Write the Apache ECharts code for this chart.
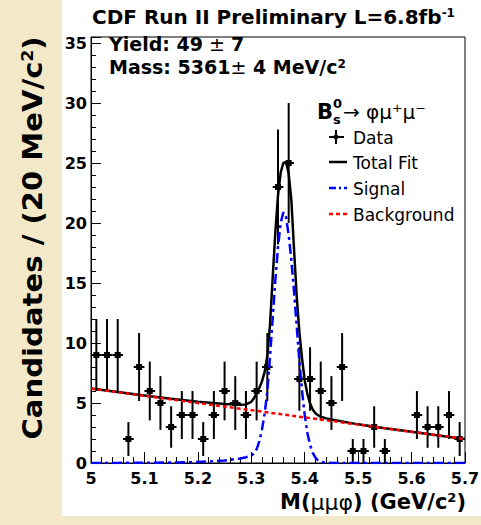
<!DOCTYPE html>
<html>
<head>
<meta charset="utf-8">
<script src="https://cdn.jsdelivr.net/npm/echarts@6.0.0/dist/echarts.min.js"></script>
<style>
html, body { margin: 0; padding: 0; background: #f3e9c9; }
#main { width: 481px; height: 525px; }
</style>
</head>
<body>
<div id="main"></div>
<script>
// bin centres (20 MeV bins), counts and errors
var binX = [5.01, 5.03, 5.05, 5.07, 5.09, 5.11, 5.13, 5.15, 5.17, 5.19,
            5.21, 5.23, 5.25, 5.27, 5.29, 5.31, 5.33, 5.35, 5.37, 5.39,
            5.41, 5.43, 5.45, 5.47, 5.49, 5.51, 5.53, 5.55, 5.57, 5.59,
            5.61, 5.63, 5.65, 5.67, 5.69];
var counts = [9, 9, 9, 2, 8, 6, 5, 3, 4, 4,
              2, 4, 6, 5, 4, 6, 8, 23, 25, 7,
              7, 6, 5, 8, 1, 1, 3, 1, 0, 0,
              4, 3, 3, 4, 2];
var errs = [3, 3, 3, 1.41, 2.83, 2.45, 2.24, 1.73, 2, 2,
            1.41, 2, 2.45, 2.24, 2, 2.45, 2.83, 4.8, 5, 2.65,
            2.65, 2.45, 2.24, 2.83, 1, 1, 1.73, 1, 0, 0,
            2, 1.73, 1.73, 2, 1.41];
var binHalf = 0.01;

// fit curves
var fitX = [5.000, 5.050, 5.100, 5.150, 5.200, 5.250, 5.280, 5.290,
            5.300, 5.305, 5.310, 5.315, 5.320, 5.325, 5.330, 5.335, 5.340, 5.345,
            5.350, 5.355, 5.360, 5.365, 5.370, 5.375, 5.380, 5.385, 5.390, 5.395,
            5.400, 5.405, 5.410, 5.415, 5.420, 5.425, 5.430, 5.440, 5.450,
            5.500, 5.550, 5.600, 5.650, 5.700];
var totalFit = [6.2, 5.92, 5.63, 5.36, 5.1, 4.92, 4.86, 4.88,
                5.1, 5.4, 5.8, 6.25, 6.8, 7.6, 8.9, 11.5, 15.4, 19.2,
                22.3, 24.2, 25.0, 25.1, 24.1, 21.9, 17.8, 13.9, 10.9, 8.7,
                6.9, 5.75, 4.95, 4.45, 4.15, 3.98, 3.86, 3.72, 3.62,
                3.22, 2.9, 2.6, 2.3, 2.0];
var signalFit = [0.0, 0.01, 0.02, 0.04, 0.08, 0.2, 0.38, 0.48,
                 0.6, 0.8, 1.15, 1.8, 2.8, 4.1, 6.0, 8.8, 12.0, 15.2,
                 18.0, 20.0, 20.9, 20.5, 19.0, 16.9, 14.3, 11.4, 8.5, 6.0,
                 4.0, 2.5, 1.5, 0.85, 0.45, 0.22, 0.1, 0.03, 0.0,
                 0, 0, 0, 0, 0];
var bkgX = [5.0, 5.7];
var bkgY = [6.2, 2.0];

var legendNames = ['Data', 'Total Fit', 'Signal', 'Background'];

var pts = binX.map(function (x, i) { return [x, counts[i], errs[i]]; });

var blue = '#0000ff', red = '#ff0000';
var signalDash = [10, 4, 3, 4], bkgDash = [4, 3];

var myChart = echarts.init(document.getElementById('main'), null, { renderer: 'svg' });

// legend drawn by hand (ROOT style: short line / cross + text)
var legX = 329, legTextX = 353, legY = [137, 162, 188, 214];
var legendGraphic = [
    { type: 'line', shape: { x1: legX + 7, y1: legY[0] - 7, x2: legX + 7, y2: legY[0] + 7 }, style: { stroke: '#000', lineWidth: 2 } },
    { type: 'line', shape: { x1: legX, y1: legY[0], x2: legX + 15, y2: legY[0] }, style: { stroke: '#000', lineWidth: 2 } },
    { type: 'rect', shape: { x: legX + 5, y: legY[0] - 2, width: 4, height: 4 }, style: { fill: '#000' } },
    { type: 'line', shape: { x1: legX, y1: legY[1], x2: legX + 18, y2: legY[1] }, style: { stroke: '#000', lineWidth: 2.5 } },
    { type: 'line', shape: { x1: legX, y1: legY[2], x2: legX + 18, y2: legY[2] }, style: { stroke: blue, lineWidth: 2.5, lineDash: [7, 3, 2, 3] } },
    { type: 'line', shape: { x1: legX, y1: legY[3], x2: legX + 18, y2: legY[3] }, style: { stroke: red, lineWidth: 2.5, lineDash: [4, 3] } }
];
legendNames.forEach(function (n, i) {
    legendGraphic.push({
        type: 'text', x: legTextX, y: legY[i] + 1,
        style: { text: n, font: '17px "DejaVu Sans"', fill: '#000', verticalAlign: 'middle' }
    });
});

var option = {
    backgroundColor: 'transparent',
    animation: false,
    grid: {
        left: 91, right: 16, top: 37, bottom: 62,
        show: true, borderColor: '#000', borderWidth: 1,
        backgroundColor: '#fff',
        outerBoundsMode: 'none'
    },
    xAxis: {
        type: 'value', min: 5, max: 5.7, interval: 0.1,
        axisLine: { show: true, onZero: false, lineStyle: { color: '#000', width: 1 } },
        axisTick: { show: true, inside: true, length: 11, lineStyle: { color: '#000' } },
        minorTick: { show: true, splitNumber: 5, length: 6, lineStyle: { color: '#000' } },
        splitLine: { show: false },
        axisLabel: {
            margin: 7, color: '#000', fontFamily: 'DejaVu Sans', fontWeight: 'bold', fontSize: 16,
            formatter: function (v) { return String(+v.toFixed(2)); }
        }
    },
    yAxis: {
        type: 'value', min: 0, max: 35.5, interval: 5,
        axisLine: { show: true, lineStyle: { color: '#000', width: 1 } },
        axisTick: { show: true, inside: true, length: 10, lineStyle: { color: '#000' } },
        minorTick: { show: true, splitNumber: 5, length: 5, lineStyle: { color: '#000' } },
        splitLine: { show: false },
        axisLabel: {
            margin: 4, color: '#000', fontFamily: 'DejaVu Sans', fontWeight: 'bold', fontSize: 16,
            showMaxLabel: false
        }
    },
    graphic: [
        { type: 'rect', z: -10, shape: { x: 62, y: 0, width: 419, height: 516 }, style: { fill: '#fff' } },
        {
            type: 'text', x: 92, y: 17,
            style: {
                text: '{a|CDF Run II Preliminary L=6.8fb}{s|-1}',
                verticalAlign: 'middle', fill: '#000',
                rich: {
                    a: { font: 'bold 20px "DejaVu Sans"', fill: '#000' },
                    s: { font: 'bold 12px "DejaVu Sans"', fill: '#000', verticalAlign: 'top' }
                }
            }
        },
        {
            type: 'text', x: 109, y: 44,
            style: {
                text: '{a|Yield: 49}{p| ± }{a|7}',
                verticalAlign: 'middle',
                rich: {
                    a: { font: 'bold 19px "DejaVu Sans"', fill: '#000' },
                    p: { font: '19px "DejaVu Sans"', fill: '#000' }
                }
            }
        },
        {
            type: 'text', x: 109, y: 67,
            style: {
                text: '{a|Mass: 5361}{p|±}{a| 4 MeV/c}{s|2}',
                verticalAlign: 'middle',
                rich: {
                    a: { font: 'bold 19px "DejaVu Sans"', fill: '#000' },
                    p: { font: '19px "DejaVu Sans"', fill: '#000' },
                    s: { font: 'bold 12px "DejaVu Sans"', fill: '#000', verticalAlign: 'top' }
                }
            }
        },
        // decay header above legend
        { type: 'text', x: 317, y: 112, style: { text: 'B', font: 'bold 21px "DejaVu Sans"', fill: '#000', verticalAlign: 'middle' } },
        { type: 'text', x: 333, y: 103, style: { text: '0', font: 'bold 13px "DejaVu Sans"', fill: '#000', verticalAlign: 'middle' } },
        { type: 'text', x: 333, y: 119, style: { text: 's', font: 'bold 13px "DejaVu Sans"', fill: '#000', verticalAlign: 'middle' } },
        { type: 'text', x: 343, y: 112, style: { text: '→ φμ⁺μ⁻', font: '20px "DejaVu Sans"', fill: '#000', verticalAlign: 'middle' } },
        // axis titles
        {
            type: 'text', x: 466, y: 502,
            style: {
                text: '{a|M(}{g|μμφ}{a|) (GeV/c}{s|2}{a|)}',
                align: 'right', verticalAlign: 'middle',
                rich: {
                    a: { font: 'bold 21px "DejaVu Sans"', fill: '#000' },
                    g: { font: '22px "DejaVu Sans"', fill: '#000' },
                    s: { font: 'bold 13px "DejaVu Sans"', fill: '#000', verticalAlign: 'top' }
                }
            }
        },
        {
            type: 'text', x: 33, y: 238, rotation: Math.PI / 2, scaleX: 1.12,
            style: {
                text: '{a|Candidates / (20 MeV/c}{s|2}{a|)}',
                align: 'center', verticalAlign: 'middle',
                rich: {
                    a: { font: 'bold 26px "DejaVu Sans"', fill: '#000' },
                    s: { font: 'bold 15px "DejaVu Sans"', fill: '#000', verticalAlign: 'top' }
                }
            }
        }
    ].concat(legendGraphic),
    series: [
        {
            name: 'Data', type: 'custom', z: 3,
            itemStyle: { color: '#000' },
            data: pts,
            renderItem: function (params, api) {
                var x = api.value(0), y = api.value(1), e = api.value(2);
                if (y <= 0) return;
                var c = api.coord([x, y]);
                var t = api.coord([x, y + e]);
                var b = api.coord([x, y - e]);
                var l = api.coord([x - binHalf, y]);
                var r = api.coord([x + binHalf, y]);
                var st = { stroke: '#000', lineWidth: 2 };
                return {
                    type: 'group',
                    children: [
                        { type: 'line', shape: { x1: t[0], y1: t[1], x2: b[0], y2: b[1] }, style: st },
                        { type: 'line', shape: { x1: l[0], y1: l[1], x2: r[0], y2: r[1] }, style: st },
                        { type: 'rect', shape: { x: c[0] - 3, y: c[1] - 3, width: 6, height: 6 }, style: { fill: '#000' } }
                    ]
                };
            }
        },
        {
            name: 'Total Fit', type: 'line', z: 4, symbol: 'none',
            data: fitX.map(function (x, i) { return [x, totalFit[i]]; }),
            lineStyle: { color: '#000', width: 2.5 }
        },
        {
            name: 'Signal', type: 'line', z: 5, symbol: 'none',
            data: fitX.map(function (x, i) { return [x, signalFit[i]]; }),
            lineStyle: { color: blue, width: 2.5, type: signalDash }
        },
        {
            name: 'Background', type: 'line', z: 6, symbol: 'none',
            data: bkgX.map(function (x, i) { return [x, bkgY[i]]; }),
            lineStyle: { color: red, width: 2.5, type: bkgDash }
        }
    ]
};

myChart.setOption(option);
</script>
</body>
</html>
